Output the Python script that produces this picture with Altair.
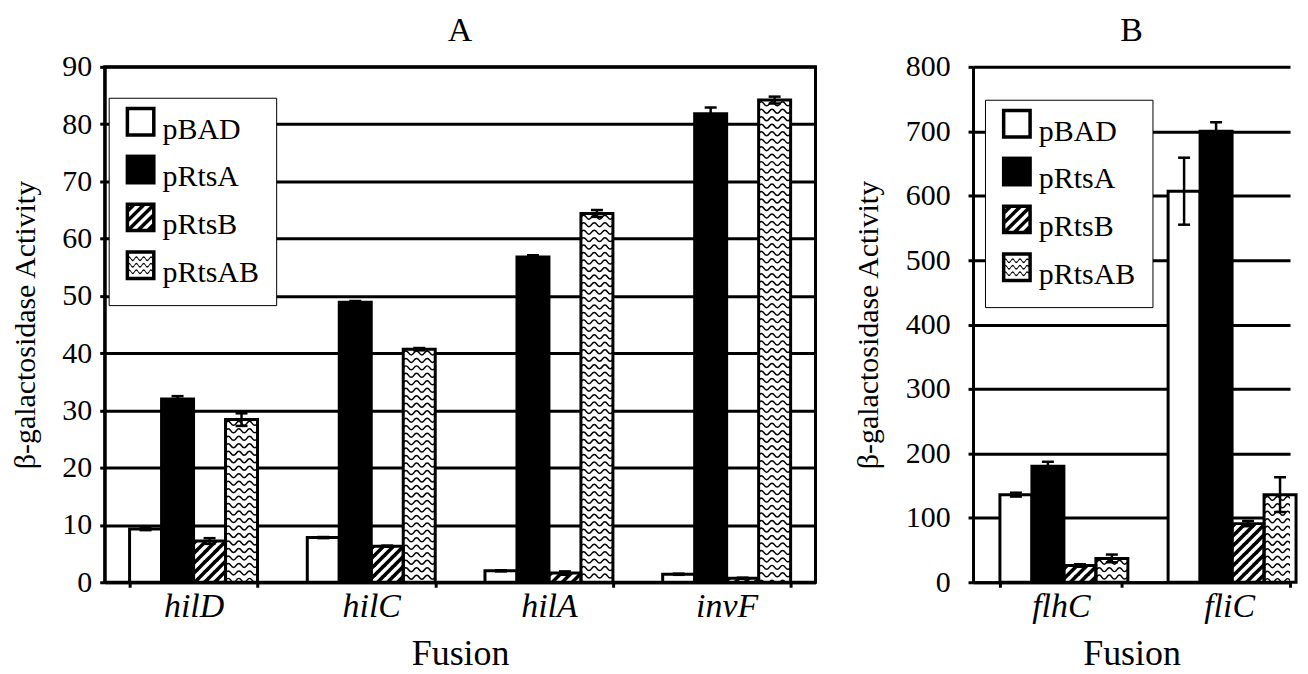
import math
import altair as alt
import pandas as pd

FONT = "Liberation Serif"
SERIES = ["pBAD", "pRtsA", "pRtsB", "pRtsAB"]

# ---------------- data ----------------
# Panel A
cats_a = ["hilD", "hilC", "hilA", "invF"]
a_pbad = [9.3, 7.8, 2.0, 1.4]
a_pbad_err = [0.2, 0.1, 0.1, 0.1]
a_prtsa = [32.0, 48.9, 56.8, 81.8]
a_prtsa_err = [0.5, 0.2, 0.3, 1.1]
a_prtsb = [7.2, 6.3, 1.6, 0.7]
a_prtsb_err = [0.5, 0.1, 0.3, 0.1]
a_prtsab = [28.4, 40.7, 64.4, 84.2]
a_prtsab_err = [1.1, 0.2, 0.6, 0.6]
ticks_a = [0, 10, 20, 30, 40, 50, 60, 70, 80, 90]

# Panel B
cats_b = ["flhC", "fliC"]
b_pbad = [136, 607]
b_pbad_err = [3, 52]
b_prtsa = [180, 700]
b_prtsa_err = [7, 14]
b_prtsb = [26, 91]
b_prtsb_err = [2, 4]
b_prtsab = [37, 136]
b_prtsab_err = [6, 27]
ticks_b = [0, 100, 200, 300, 400, 500, 600, 700, 800]

# ---------------- layout / style constants ----------------
H = 517
A_W = 713
B_W = 318
HATCH_P = 10.0    # px, hatch period
WAVE_Q = 7.5      # px, wave row spacing


def table(cats, vals, errs):
    rows = []
    for s, vl, el in zip(SERIES, vals, errs):
        for c, v, e in zip(cats, vl, el):
            rows.append({"cat": c, "series": s, "value": v, "lo": v - e, "hi": v + e})
    return pd.DataFrame(rows)


def clip_poly(poly, a, b, c):
    out = []
    n = len(poly)
    for i in range(n):
        p = poly[i]
        q = poly[(i + 1) % n]
        fp = a * p[0] + b * p[1] - c
        fq = a * q[0] + b * q[1] - c
        if fp <= 0:
            out.append(p)
        if (fp < 0 < fq) or (fq < 0 < fp):
            t = fp / (fp - fq)
            out.append((p[0] + t * (q[0] - p[0]), p[1] + t * (q[1] - p[1])))
    return out


def stripes(x0, y0, x1, y1, period, on):
    rect = [(x0, y0), (x1, y0), (x1, y1), (x0, y1)]
    polys = []
    kmin = math.floor((x0 + y0) / period) - 2
    kmax = math.ceil((x1 + y1) / period) + 1
    for k in range(kmin, kmax + 1):
        c = k * period
        p = clip_poly(rect, -1, -1, -c)
        p = clip_poly(p, 1, 1, c + on) if p else p
        if len(p) >= 3:
            polys.append(p)
    return polys


def poly_path(polys, cx, cy, s):
    parts = []
    for poly in polys:
        pts = ["%.4f,%.4f" % ((x - cx) / s, (y - cy) / s) for x, y in poly]
        parts.append("M" + "L".join(pts) + "Z")
    return "".join(parts)


def rect_poly(x0, y0, x1, y1, cw=True):
    p = [(x0, y0), (x1, y0), (x1, y1), (x0, y1)]
    return p if cw else p[::-1]


def hatch_tile(w):
    polys = stripes(0, -0.6, w, HATCH_P + 0.6, HATCH_P, HATCH_P / 2)
    return poly_path(polys, w / 2, HATCH_P / 2, w / 2)


def wave_line(w, amp=2.0):
    n = max(2, int(round(w / 5.2)))
    half = w / n
    s = w / 2
    cmd = ["M%.4f,0" % (-1.0)]
    for i in range(n):
        x0 = i * half
        cy = -2 * amp if i % 2 == 0 else 2 * amp
        cmd.append("Q%.4f,%.4f %.4f,0" % ((x0 + half / 2 - s) / s, cy / s, (x0 + half - s) / s))
    return "".join(cmd)


# legend symbol paths (symbol box S px wide, centred at 0,0; visible square raised)
S = 30
HS = S / 2
LEG_PAD = 17
VX0, VX1, VY0, VY1 = -15.0, 15.0, -23.0, 7.0
RING = 3.5
IX0, IX1, IY0, IY1 = VX0 + RING, VX1 - RING, VY0 + RING, VY1 - RING


def ring_polys():
    return [rect_poly(VX0, VY0, VX1, VY1, True), rect_poly(IX0, IY0, IX1, IY1, False)]


def ribbon(yc, x0, x1, amp, period, th):
    n = 24
    top, bot = [], []
    for j in range(n + 1):
        x = x0 + (x1 - x0) * j / n
        y = yc - amp * math.cos(2 * math.pi * (x - x0) / period)
        top.append((x, y - th / 2))
        bot.append((x, y + th / 2))
    return top + bot[::-1]


ymid = (IY0 + IY1) / 2
leg_pbad = poly_path(ring_polys(), 0, 0, HS)
leg_prtsa = poly_path([rect_poly(VX0, VY0, VX1, VY1)], 0, 0, HS)
leg_prtsb = poly_path(ring_polys() + stripes(IX0, IY0, IX1, IY1, 10.0, 5.0), 0, 0, HS)
leg_prtsab = poly_path(
    ring_polys() + [ribbon(ymid + d, IX0, IX1, 1.8, 7.3, 1.5) for d in (-6.5, 0.0, 6.5)], 0, 0, HS
)
LEGEND_PATHS = [leg_pbad, leg_prtsa, leg_prtsb, leg_prtsab]


def panel(name, cats, vals, errs, ticks, width, ymax, lx, ly, label_pad, title_pad,
          p_in, p_out, align, border):
    df = table(cats, vals, errs)
    n = len(cats)
    step = width / (n - p_in + 2 * p_out)
    bar_w = step * (1 - p_in) / 4
    px_per_unit = H / ymax
    hp = HATCH_P / px_per_unit
    wq = WAVE_Q / px_per_unit

    hatch_rows = []
    for c, v in zip(cats, vals[2]):
        k = 0
        while v - k * hp > 0:
            hatch_rows.append({"cat": c, "series": "pRtsB", "ty": v - (k + 0.5) * hp})
            k += 1
    wave_rows = []
    for c, v in zip(cats, vals[3]):
        k = 0
        while v - (k + 0.5) * wq > -0.3 * wq:
            wave_rows.append({"cat": c, "series": "pRtsAB", "ty": v - (k + 0.5) * wq})
            k += 1
    hatch_df = pd.DataFrame(hatch_rows)
    wave_df = pd.DataFrame(wave_rows)

    xenc = alt.X(
        "cat:N",
        sort=cats,
        scale=alt.Scale(domain=cats, paddingInner=p_in, paddingOuter=p_out, align=align),
        axis=alt.Axis(
            title="Fusion", titleFont=FONT, titleFontSize=36, titleFontWeight="normal",
            titleColor="black", titlePadding=14,
            labelFont=FONT, labelFontSize=34, labelFontStyle="italic", labelColor="black",
            labelAngle=0, labelPadding=2, tickBand="extent", ticks=True, tickSize=5,
            tickWidth=3, tickColor="black", domainColor="black", domainWidth=3, grid=False,
        ),
    )
    xoff = alt.XOffset("series:N", sort=SERIES,
                       scale=alt.Scale(domain=SERIES, paddingInner=0, paddingOuter=0))
    yscale = alt.Scale(domain=[0, ymax], nice=False, zero=True)
    yaxis = alt.Axis(
        values=ticks, grid=True, gridColor="black", gridWidth=3, gridOpacity=1,
        domainColor="black", domainWidth=3, tickColor="black", tickWidth=3, tickSize=5,
        labelFont=FONT, labelFontSize=30, labelColor="black", labelPadding=label_pad,
        title="β-galactosidase Activity", titleFont=FONT, titleFontSize=30,
        titleFontWeight="normal", titleColor="black", titlePadding=title_pad,
    )
    yenc = alt.Y("value:Q", scale=yscale, axis=yaxis)

    base = alt.Chart(df)
    fills = base.mark_bar(strokeWidth=0).encode(
        x=xenc, xOffset=xoff, y=yenc,
        fill=alt.condition(alt.datum.series == "pRtsA", alt.value("black"), alt.value("white")),
    )
    hatch = alt.Chart(hatch_df).mark_point(
        shape=hatch_tile(bar_w), size=bar_w * bar_w, filled=True, color="black",
        strokeWidth=0, opacity=1, clip=True,
    ).encode(x=xenc, xOffset=xoff, y=alt.Y("ty:Q", scale=yscale, axis=yaxis))
    wave = alt.Chart(wave_df).mark_point(
        shape=wave_line(bar_w), size=bar_w * bar_w, filled=False, color="black",
        strokeWidth=1.5, opacity=1, clip=True,
    ).encode(x=xenc, xOffset=xoff, y=alt.Y("ty:Q", scale=yscale, axis=yaxis))
    outline = base.mark_bar(fillOpacity=0, fill="white", stroke="black", strokeWidth=3).encode(
        x=xenc, xOffset=xoff, y=yenc
    )
    err_rule = base.mark_rule(color="black", strokeWidth=2.5).encode(
        x=xenc, xOffset=xoff, y=alt.Y("lo:Q", scale=yscale, axis=yaxis), y2="hi:Q"
    )
    cap_hi = base.mark_tick(color="black", size=12, thickness=2.5, opacity=1).encode(
        x=xenc, xOffset=xoff, y=alt.Y("hi:Q", scale=yscale, axis=yaxis)
    )
    cap_lo = base.mark_tick(color="black", size=12, thickness=2.5, opacity=1).encode(
        x=xenc, xOffset=xoff, y=alt.Y("lo:Q", scale=yscale, axis=yaxis)
    )
    leg = alt.Legend(
        title=None, orient="none", legendX=lx, legendY=ly, direction="vertical",
        strokeColor="black", fillColor="white", padding=LEG_PAD,
        symbolSize=S * S, symbolStrokeWidth=0, symbolOpacity=1,
        labelFont=FONT, labelFontSize=30, labelColor="black", labelOffset=7,
        labelBaseline="middle", rowPadding=10,
        labelExpr="datum.label + '\u00a0\u00a0'",
    )
    legend_layer = base.mark_point(opacity=0, filled=True).encode(
        x=xenc, xOffset=xoff, y=yenc,
        fill=alt.Fill("series:N", sort=SERIES,
                      scale=alt.Scale(domain=SERIES, range=["black"] * 4), legend=leg),
        shape=alt.Shape("series:N", sort=SERIES,
                        scale=alt.Scale(domain=SERIES, range=LEGEND_PATHS), legend=leg),
    )
    return alt.layer(fills, hatch, wave, outline, err_rule, cap_hi, cap_lo, legend_layer).properties(
        width=width, height=H,
        view=alt.ViewBackground(stroke="black" if border else "transparent", strokeWidth=3),
        title=alt.TitleParams(name, font=FONT, fontSize=34, fontWeight="normal", color="black",
                              anchor="middle", frame="group", offset=4),
    )


vals_a = [a_pbad, a_prtsa, a_prtsb, a_prtsab]
errs_a = [a_pbad_err, a_prtsa_err, a_prtsb_err, a_prtsab_err]
vals_b = [b_pbad, b_prtsa, b_prtsb, b_prtsab]
errs_b = [b_pbad_err, b_prtsa_err, b_prtsb_err, b_prtsab_err]

panel_a = panel("A", cats_a, vals_a, errs_a, ticks_a, A_W, 90, 4, 31, 8, 21,
                0.28, 0.14, 0.5, True)
# panel B is cut at the right edge of the figure: its bands keep their size,
# with the outer padding pushed to the hidden right side
panel_b = panel("B", cats_b, vals_b, errs_b, ticks_b, B_W, 800, 12, 33, 18, 22,
                0.275, 0.08, 1.0, False)

chart = (
    alt.hconcat(panel_a, panel_b, spacing=34)
    .resolve_scale(x="independent", y="independent", fill="independent", shape="independent")
    .resolve_legend(fill="independent", shape="independent")
    .properties(padding={"left": 1, "top": 3, "right": 0, "bottom": 0})
    .configure_view(stroke="black", strokeWidth=3)
    .configure_legend(strokeWidth=3)
    .configure(background="white")
)

chart.save("out.html", embed_options={"renderer": "svg", "actions": False})
